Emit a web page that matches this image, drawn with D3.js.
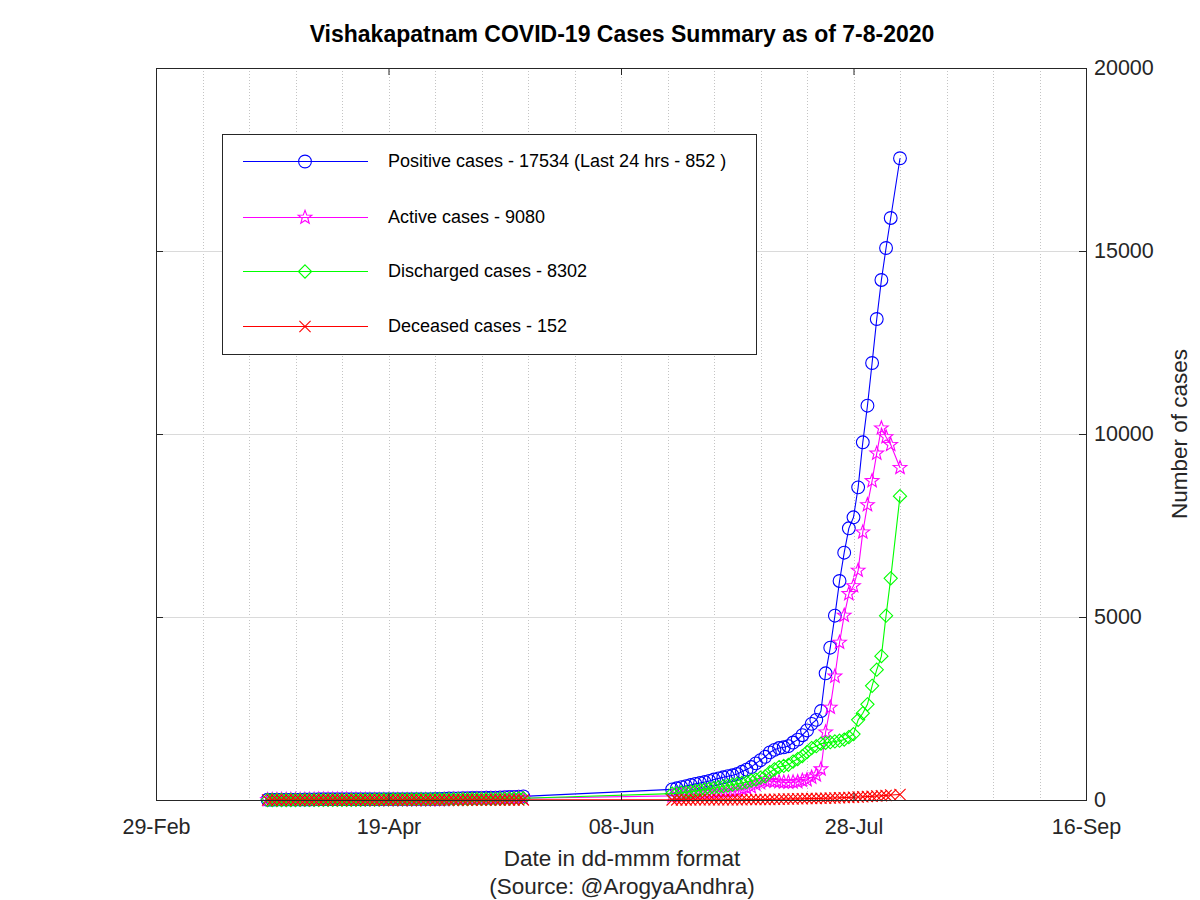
<!DOCTYPE html>
<html><head><meta charset="utf-8">
<script src="https://cdn.jsdelivr.net/npm/d3@7"></script>
<style>
html,body{margin:0;padding:0;background:#fff;}
text{font-family:"Liberation Sans",Arial,Helvetica,sans-serif;}
</style></head>
<body><svg id="chart" width="1200" height="900"></svg>
<script>
const titleText = "Vishakapatnam COVID-19 Cases Summary as of 7-8-2020";
const xLabel = "Date in dd-mmm format";
const sourceLabel = "(Source: @ArogyaAndhra)";
const yLabel = "Number of cases";
const xDomain = ["2020-02-29", "2020-09-16"];
const xTickDates = ["2020-02-29", "2020-04-19", "2020-06-08", "2020-07-28", "2020-09-16"];
const yTicks = [0, 5000, 10000, 15000, 20000];
const legendLabels = [
  "Positive cases - 17534 (Last 24 hrs - 852 )",
  "Active cases - 9080",
  "Discharged cases - 8302",
  "Deceased cases - 152"
];

const dates = [
 "2020-03-24","2020-03-25","2020-03-26","2020-03-27","2020-03-28","2020-03-29","2020-03-30","2020-03-31",
 "2020-04-01","2020-04-02","2020-04-03","2020-04-04","2020-04-05","2020-04-06","2020-04-07","2020-04-08","2020-04-09","2020-04-10",
 "2020-04-11","2020-04-12","2020-04-13","2020-04-14","2020-04-15","2020-04-16","2020-04-17","2020-04-18","2020-04-19","2020-04-20",
 "2020-04-21","2020-04-22","2020-04-23","2020-04-24","2020-04-25","2020-04-26","2020-04-27","2020-04-28","2020-04-29","2020-04-30",
 "2020-05-01","2020-05-02","2020-05-03","2020-05-04","2020-05-05","2020-05-06","2020-05-07","2020-05-08","2020-05-09","2020-05-10",
 "2020-05-11","2020-05-12","2020-05-13","2020-05-14","2020-05-15","2020-05-16","2020-05-17","2020-05-18",
 "2020-06-19","2020-06-20","2020-06-21","2020-06-22","2020-06-23","2020-06-24","2020-06-25","2020-06-26","2020-06-27","2020-06-28",
 "2020-06-29","2020-06-30","2020-07-01","2020-07-02","2020-07-03","2020-07-04","2020-07-05","2020-07-06","2020-07-07","2020-07-08",
 "2020-07-09","2020-07-10","2020-07-11","2020-07-12","2020-07-13","2020-07-14","2020-07-15","2020-07-16","2020-07-17","2020-07-18",
 "2020-07-19","2020-07-20","2020-07-21","2020-07-22","2020-07-23","2020-07-24","2020-07-25","2020-07-26","2020-07-27","2020-07-28",
 "2020-07-29","2020-07-30","2020-07-31","2020-08-01","2020-08-02","2020-08-03","2020-08-04","2020-08-05","2020-08-07"
];

const positive = [
 6,7,9,10,11,11,11,11,14,14,15,20,20,20,20,20,20,20,20,20,20,21,21,21,21,22,22,
 22,22,22,22,22,23,23,25,25,28,29,35,39,44,45,49,50,55,57,59,62,62,64,67,75,80,85,92,99,
 290,320,350,380,410,440,465,490,520,560,590,620,650,675,710,770,830,900,1000,1090,1180,1300,
 1370,1420,1440,1470,1570,1650,1770,1900,2080,2190,2430,
 3462,4161,5036,5984,6757,7423,7724,8543,9773,10773,11940,13142,14208,15082,15902,17534
];
const active = [
 6,7,9,10,11,11,11,10,13,13,14,19,19,19,18,18,17,17,16,16,16,12,12,8,8,8,7,
 7,7,6,6,5,5,4,6,5,7,6,11,15,19,19,22,22,26,27,28,30,29,30,31,37,38,41,45,48,
 112,132,147,162,177,186,190,195,205,224,234,239,248,248,257,297,330,360,429,468,521,524,
 510,498,485,482,490,498,535,552,620,678,845,
 1854,2529,3380,4304,5042,5633,5850,6273,7317,8063,8720,9472,10160,9920,9710,9080
];
const discharged = [
 0,0,0,0,0,0,0,1,1,1,1,1,1,1,2,2,3,3,4,4,4,9,9,13,13,14,15,
 15,15,16,16,17,18,19,19,20,21,22,23,23,24,25,26,27,28,29,30,31,32,33,35,37,40,42,45,48,
 175,185,200,215,230,250,270,290,310,330,350,375,395,420,445,465,490,530,560,610,645,760,
 840,900,930,960,1050,1120,1200,1310,1420,1470,1540,
 1560,1580,1600,1620,1650,1720,1800,2190,2370,2615,3120,3560,3930,5036,6057,8302
];
const deceased = [
 0,0,0,0,0,0,0,0,0,0,0,0,0,0,0,0,0,0,0,0,0,0,0,0,0,0,0,
 0,0,0,0,0,0,0,0,0,0,1,1,1,1,1,1,1,1,1,1,1,1,1,1,1,2,2,2,3,
 3,3,3,3,3,4,5,5,5,6,6,6,7,7,8,8,10,10,11,12,14,16,
 20,22,25,28,30,32,35,38,40,42,45,
 48,52,56,60,65,70,74,80,86,95,100,110,118,126,135,152
];

const seriesList = [
  {values: positive, color: "#0000ff", marker: "circle"},
  {values: active, color: "#ff00ff", marker: "star"},
  {values: discharged, color: "#00ff00", marker: "diamond"},
  {values: deceased, color: "#ff0000", marker: "x"}
];

const parse = d3.utcParse("%Y-%m-%d");
const svg = d3.select("#chart");
const L = 156, R = 1086, T = 68, B = 800;

const x = d3.scaleUtc().domain(xDomain.map(parse)).range([L, R]);
const y = d3.scaleLinear().domain([0, 20000]).range([B, T]);

function markerPath(type) {
  if (type === "circle") return d3.symbol(d3.symbolCircle, Math.PI * 6.4 * 6.4)();
  if (type === "diamond") { const s = 6.6; return `M0,${-s}L${s},0L0,${s}L${-s},0Z`; }
  if (type === "x") { const s = 5.6; return `M${-s},${-s}L${s},${s}M${-s},${s}L${s},${-s}`; }
  if (type === "star") {
    const ro = 7.2, ri = 3.0; let p = "";
    for (let i = 0; i < 10; i++) {
      const r = i % 2 === 0 ? ro : ri;
      const a = -Math.PI / 2 + i * Math.PI / 5;
      p += (i === 0 ? "M" : "L") + (r * Math.cos(a)).toFixed(2) + "," + (r * Math.sin(a)).toFixed(2);
    }
    return p + "Z";
  }
}

// grid
const grid = svg.append("g");
const minorDays = d3.utcDay.range(parse(xDomain[0]), parse(xDomain[1]), 10).slice(1);
grid.selectAll("line.vx").data(minorDays).join("line")
  .attr("x1", d => Math.round(x(d)) + 0.5).attr("x2", d => Math.round(x(d)) + 0.5)
  .attr("y1", T).attr("y2", B)
  .attr("stroke", "#c4c4c4").attr("stroke-width", 1).attr("stroke-dasharray", "1,2");
grid.selectAll("line.hy").data(yTicks.slice(1, -1)).join("line")
  .attr("x1", L).attr("x2", R)
  .attr("y1", d => Math.round(y(d)) + 0.5).attr("y2", d => Math.round(y(d)) + 0.5)
  .attr("stroke", "#dadada").attr("stroke-width", 1);

// series
const plot = svg.append("g");
seriesList.forEach(s => {
  const pts = dates.map((d, i) => [x(parse(d)), y(s.values[i])]);
  plot.append("path").attr("d", d3.line()(pts))
    .attr("fill", "none").attr("stroke", s.color).attr("stroke-width", 1.1);
  plot.append("g").selectAll("path").data(pts).join("path")
    .attr("transform", p => `translate(${p[0]},${p[1]})`)
    .attr("d", markerPath(s.marker))
    .attr("fill", "none").attr("stroke", s.color).attr("stroke-width", 1.1);
});

// axes
const fmt = d3.utcFormat("%d-%b");
const tickDates = xTickDates.map(parse);
const axB = svg.append("g").attr("transform", `translate(0,${B})`)
  .call(d3.axisBottom(x).tickValues(tickDates).tickFormat(fmt).tickSize(-7).tickPadding(19));
const axT = svg.append("g").attr("transform", `translate(0,${T})`)
  .call(d3.axisTop(x).tickValues(tickDates).tickFormat("").tickSize(-7));
const axR = svg.append("g").attr("transform", `translate(${R},0)`)
  .call(d3.axisRight(y).tickValues(yTicks).tickFormat(d3.format("d")).tickSize(-7).tickPadding(8));
const axL = svg.append("g").attr("transform", `translate(${L},0)`)
  .call(d3.axisLeft(y).tickValues(yTicks).tickFormat("").tickSize(-7));
[axB, axT, axR, axL].forEach(a => {
  a.select(".domain").remove();
  a.selectAll(".tick line").attr("stroke", "#262626");
  a.selectAll("text").attr("fill", "#262626").style("font-size", "21.5px");
});
axB.selectAll("text").attr("dy", "0.71em");

svg.append("rect").attr("x", L + 0.5).attr("y", T + 0.5).attr("width", R - L).attr("height", B - T)
  .attr("fill", "none").attr("stroke", "#262626").attr("stroke-width", 1);

// titles
svg.append("text").attr("x", 622).attr("y", 42).attr("text-anchor", "middle")
  .style("font-size", "23px").style("font-weight", "bold").text(titleText);
svg.append("text").attr("x", 622).attr("y", 866).attr("text-anchor", "middle")
  .style("font-size", "22.5px").attr("fill", "#262626").text(xLabel);
svg.append("text").attr("x", 622).attr("y", 894).attr("text-anchor", "middle")
  .style("font-size", "22.5px").attr("fill", "#262626").text(sourceLabel);
svg.append("text").attr("transform", "translate(1187,434) rotate(-90)").attr("text-anchor", "middle")
  .style("font-size", "22.5px").attr("fill", "#262626").text(yLabel);

// legend
const lg = svg.append("g");
lg.append("rect").attr("x", 222.5).attr("y", 134.5).attr("width", 534).attr("height", 220)
  .attr("fill", "#fff").attr("stroke", "#262626").attr("stroke-width", 1);
const rowY = [161, 217, 271, 326];
seriesList.forEach((s, i) => {
  lg.append("line").attr("x1", 243).attr("x2", 368).attr("y1", rowY[i] + 0.5).attr("y2", rowY[i] + 0.5)
    .attr("stroke", s.color).attr("stroke-width", 1.1);
  lg.append("path").attr("transform", `translate(305,${rowY[i] + 0.5})`).attr("d", markerPath(s.marker))
    .attr("fill", "none").attr("stroke", s.color).attr("stroke-width", 1.1);
  lg.append("text").attr("x", 388).attr("y", rowY[i]).attr("dy", "0.35em")
    .style("font-size", "18px").attr("fill", "#000").text(legendLabels[i]);
});
</script></body></html>
